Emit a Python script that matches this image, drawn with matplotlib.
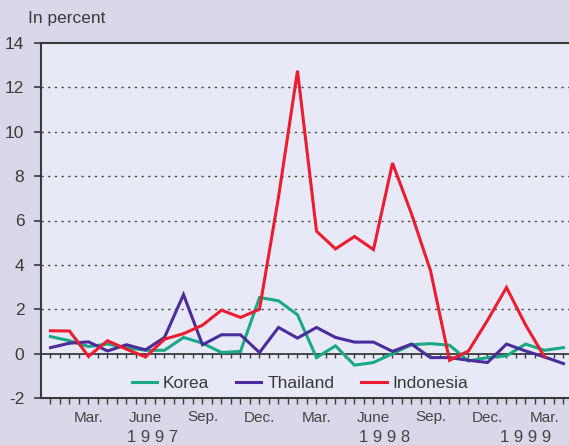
import numpy as np
import matplotlib
matplotlib.use("Agg")
import matplotlib.pyplot as plt

# ---- data (monthly, Jan 1997 .. Apr 1999) ----
korea = [0.77, 0.58, 0.32, 0.43, 0.27, 0.15, 0.15, 0.73, 0.47, 0.05, 0.10, 2.53,
         2.38, 1.75, -0.18, 0.35, -0.52, -0.40, 0.00, 0.40, 0.45, 0.38, -0.33, -0.18,
         -0.10, 0.43, 0.15, 0.27]
thailand = [0.27, 0.47, 0.53, 0.12, 0.40, 0.17, 0.73, 2.66, 0.40, 0.85, 0.85, 0.05,
            1.18, 0.70, 1.18, 0.73, 0.52, 0.52, 0.10, 0.43, -0.18, -0.18, -0.30, -0.40,
            0.43, 0.12, -0.15, -0.45]
indonesia = [1.03, 1.02, -0.12, 0.58, 0.20, -0.15, 0.65, 0.90, 1.28, 1.96, 1.63, 2.00,
             7.05, 12.75, 5.52, 4.72, 5.28, 4.69, 8.59, 6.30, 3.74, -0.30, 0.12, 1.50,
             2.98, 1.30, -0.15]
month_tick_idx = [2, 5, 8, 11, 14, 17, 20, 23, 26]
month_labels = ["Mar.", "June", "Sep.", "Dec.", "Mar.", "June", "Sep.", "Dec.", "Mar."]
years = ["1 9 9 7", "1 9 9 8", "1 9 9 9"]
year_x_px = [153, 385, 526]
series_names = ["Korea", "Thailand", "Indonesia"]
colors = ["#1aa985", "#4a2c9c", "#ee1c30"]

W, H = 569, 445
outer_bg = "#dad7e9"
inner_bg = "#e7eaf6"
dark = "#3a3a3a"
main_font = ["Liberation Sans", "DejaVu Sans"]
narrow_font = ["Liberation Sans Narrow", "Liberation Sans", "DejaVu Sans"]

fig = plt.figure(figsize=(W / 100, H / 100), dpi=100, facecolor=outer_bg)
ax = fig.add_axes([41 / W, 1 - 398 / H, 1 - 41 / W, (398 - 43) / H])
ax.set_facecolor(inner_bg)

x_k = np.arange(len(korea))
x_t = np.arange(len(thailand))
x_i = np.arange(len(indonesia))
for xs, ys, name, c in zip([x_k, x_t, x_i], [korea, thailand, indonesia], series_names, colors):
    ax.plot(xs, ys, color=c, lw=2.2, label=name, solid_joinstyle="miter", zorder=3)

ax.set_xlim(-0.5, (W - 50.5) / 19)
ax.set_ylim(-2, 14)

# grid lines
for yv in range(2, 14, 2):
    ax.axhline(yv, color="#444444", lw=1.0, ls=(0, (1.6, 3.2)), zorder=1)
ax.axhline(0, color=dark, lw=1.3, zorder=2)

# spines
for s in ["left", "top", "bottom"]:
    ax.spines[s].set_color(dark)
    ax.spines[s].set_linewidth(1.5)
ax.spines["right"].set_visible(False)

# y ticks
ax.set_yticks(range(-2, 15, 2))
ax.set_yticklabels([str(v) for v in range(-2, 15, 2)], fontfamily=main_font, fontsize=12.5, color=dark)
ax.tick_params(axis="y", direction="out", length=5, width=1.2, color=dark, pad=7)

# x ticks
half_ticks = np.arange(0, 27.5, 0.5)
ax.set_xticks(half_ticks, minor=True)
ax.set_xticks(month_tick_idx)
ax.set_xticklabels(month_labels, fontfamily=narrow_font, fontsize=11, color="#444444")
ax.tick_params(axis="x", which="both", direction="out", length=4, width=1.0, color=dark, pad=5)
# ticks on the zero line
ax.vlines(half_ticks, -0.2, 0, color=dark, lw=1.0, zorder=2)

# year labels
for yl, xp in zip(years, year_x_px):
    fig.text(xp / W, 1 - 441.5 / H, yl, ha="center", va="baseline",
             fontfamily=narrow_font, fontsize=12, color="#444444")

fig.text(28 / W, 1 - 22.7 / H, "In percent", ha="left", va="baseline",
         fontfamily=main_font, fontsize=12.5, color=dark)

leg = ax.legend(loc="center", bbox_to_anchor=(300 / W, 1 - 383 / H),
                bbox_transform=fig.transFigure, ncol=3, frameon=False,
                handlelength=1.45, handletextpad=0.35, columnspacing=1.55,
                borderpad=0, prop={"family": main_font, "size": 12.5})
for t in leg.get_texts():
    t.set_color(dark)

fig.savefig("out.png", dpi=100, facecolor=outer_bg)
